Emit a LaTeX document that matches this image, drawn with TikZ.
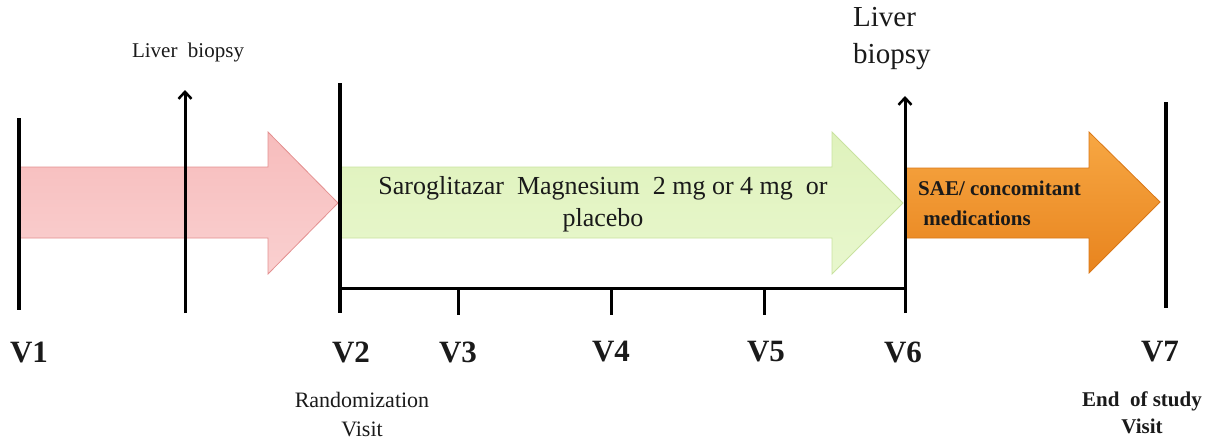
\documentclass[tikz,border=0pt]{standalone}
\usepackage{fontspec}
\setmainfont{Liberation Serif}
\usetikzlibrary{arrows.meta}
\definecolor{pinkfill}{HTML}{FAD0D0}
\definecolor{pinktop}{HTML}{F7BCBC}
\definecolor{pinkedge}{HTML}{E39090}
\definecolor{greenfill}{HTML}{E8F7CD}
\definecolor{greentop}{HTML}{DFF2BC}
\definecolor{greenedge}{HTML}{C9E2A0}
\definecolor{orangetop}{HTML}{F7A743}
\definecolor{orangebot}{HTML}{E8841E}
\definecolor{orangeedge}{HTML}{D97818}
\definecolor{txt}{HTML}{1A1A1A}
\tikzset{
  vline/.style={line width=4pt, black},
  tline/.style={line width=3pt, black},
  bioarrow/.style={line width=3pt, black, -{Straight Barb[length=7pt,width=13pt,line width=2.5pt]}},
  vlabel/.style={font=\fontsize{31}{31}\selectfont\bfseries, text=txt, inner sep=0pt},
  smalltext/.style={font=\fontsize{22}{29}\selectfont, text=txt, align=center, inner sep=0pt},
}
\begin{document}
\begin{tikzpicture}[x=1pt,y=-1pt]
\useasboundingbox (0,0) rectangle (1212,442);
% phase arrows
\shade[top color=pinktop, bottom color=pinkfill, draw=pinkedge, line width=0.8pt]
  (19,167) -- (268,167) -- (268,132) -- (338,203) -- (268,274) -- (268,238) -- (19,238) -- cycle;
\shade[top color=greentop, bottom color=greenfill, draw=greenedge, line width=0.8pt]
  (340,167) -- (832,167) -- (832,132) -- (903,203) -- (832,274) -- (832,238) -- (340,238) -- cycle;
\shade[top color=orangetop, bottom color=orangebot, draw=orangeedge, line width=0.8pt]
  (905,168) -- (1089,168) -- (1089,132) -- (1160,202) -- (1089,273) -- (1089,238) -- (905,238) -- cycle;
% text in arrows
\node[font=\fontsize{26}{32}\selectfont, text=txt, align=center, inner sep=0pt] (drug) at (603,204)
  {Saroglitazar\ \ Magnesium\ \ 2 mg or 4 mg\ \ or\\ placebo};
\node[font=\fontsize{21}{30}\selectfont\bfseries, text=txt, align=left, inner sep=0pt, anchor=base west] (sae) at (918,225)
  {SAE/ concomitant\\ \ medications};
% coordinates for lines
\coordinate (v1t) at (19,118);  \coordinate (v1b) at (19,310);
\coordinate (b1b) at (185,313); \coordinate (b1t) at (185,90);
\coordinate (v2t) at (340,83);  \coordinate (v2b) at (340,313);
\coordinate (v6b) at (905,313); \coordinate (v6t) at (905,96);
\coordinate (v7t) at (1166,102); \coordinate (v7b) at (1166,308);
\coordinate (brl) at (340,288); \coordinate (brr) at (905,288);
\coordinate (t3t) at (458,288); \coordinate (t3b) at (458,315);
\coordinate (t4t) at (611,288); \coordinate (t4b) at (611,315);
\coordinate (t5t) at (764,288); \coordinate (t5b) at (764,315);
% lines
\draw[vline] (v1t) -- (v1b);
\draw[bioarrow] (b1b) -- (b1t);
\draw[vline] (v2t) -- (v2b);
\draw[bioarrow] (v6b) -- (v6t);
\draw[vline] (v7t) -- (v7b);
\draw[tline] (brl) -- (brr);
\draw[tline] (t3t) -- (t3b);
\draw[tline] (t4t) -- (t4b);
\draw[tline] (t5t) -- (t5b);
% biopsy labels
\node[font=\fontsize{21}{24}\selectfont, text=txt, inner sep=0pt] (bio1) at (188,52) {Liver\ \ biopsy};
\node[font=\fontsize{29}{37}\selectfont, text=txt, align=left, inner sep=0pt, anchor=base west] (bio2) at (853,63) {Liver\\biopsy};
% visit labels
\node[vlabel] (V1) at (29,352) {V1};
\node[vlabel] (V2) at (351,352) {V2};
\node[vlabel] (V3) at (458,352) {V3};
\node[vlabel] (V4) at (611,352) {V4};
\node[vlabel] (V5) at (766,352) {V5};
\node[vlabel] (V6) at (903,352) {V6};
\node[vlabel] (V7) at (1160,352) {V7};
\node[smalltext] (rand) at (362,415) {Randomization\\Visit};
\node[smalltext, font=\fontsize{21}{27}\selectfont\bfseries] (eos) at (1142,413) {End\ \ of study\\Visit};
\end{tikzpicture}
\end{document}
